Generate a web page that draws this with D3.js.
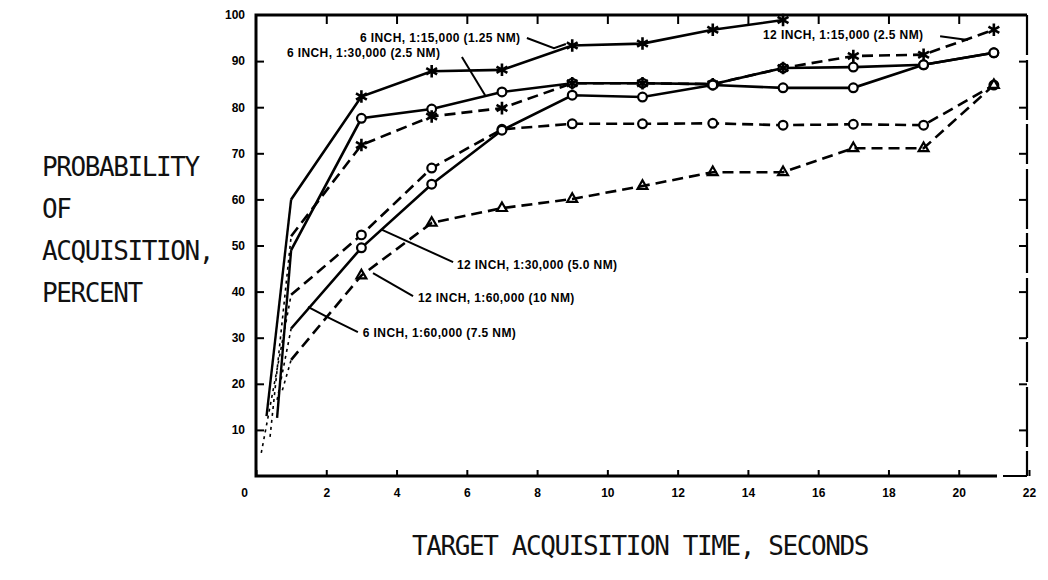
<!DOCTYPE html>
<html>
<head>
<meta charset="utf-8">
<script src="https://cdn.jsdelivr.net/npm/d3@7"></script>
<style>
  body { margin: 0; background: #fff; }
  .c-axis text { font-family: "Liberation Sans", sans-serif; font-weight: bold; font-size: 12px; }
  .c-axis line { stroke: #000; stroke-width: 2; }
  .c-axis path { display: none; }
  .c-title { font-family: "DejaVu Sans Mono", monospace; font-size: 26px; letter-spacing: -1.4px; fill: #111; }
  .c-note { font-family: "Liberation Sans", sans-serif; font-weight: bold; font-size: 12px; letter-spacing: 0.4px; fill: #000; }
</style>
</head>
<body>
<div id="chart"></div>
<script>
// acquisition times (seconds) where the points were taken
const acqTimes = [1, 3, 5, 7, 9, 11, 13, 15, 17, 19, 21];

// probability of acquisition, percent
const inch6Scale15k  = [60, 82.3, 87.8, 88.1, 93.4, 93.8, 96.8, 98.9];
const inch6Scale30k  = [49, 77.6, 79.6, 83.3, 85.2, 85.2, 85.0, 88.5, 88.7, 89.2, 91.8];
const inch12Scale15k = [52, 71.8, 78.0, 79.8, 85.2, 85.2, 85.0, 88.5, 91.1, 91.4, 96.8];
const inch12Scale30k = [39.3, 52.3, 66.8, 75.2, 76.4, 76.4, 76.5, 76.1, 76.3, 76.1, 84.8];
const inch6Scale60k  = [32, 49.5, 63.3, 75.0, 82.6, 82.2, 84.8, 84.2, 84.2, 89.2, 91.8];
const inch12Scale60k = [25.2, 43.5, 54.9, 58.1, 60.1, 62.9, 65.9, 65.9, 71.1, 71.1, 84.8];

// first (dotted) points near the origin, one per series
const startTimes  = [0.3, 0.6, 0.4, 0.15, 0.6, 0.75];
const startValues = [13, 12.6, 8.5, 5, 16.5, 18.6];

const seriesNames = [
  '6 INCH, 1:15,000 (1.25 NM)',
  '6 INCH, 1:30,000 (2.5 NM)',
  '12 INCH, 1:15,000 (2.5 NM)',
  '12 INCH, 1:30,000 (5.0 NM)',
  '6 INCH, 1:60,000 (7.5 NM)',
  '12 INCH, 1:60,000 (10 NM)'
];

const xTicks = [0, 2, 4, 6, 8, 10, 12, 14, 16, 18, 20, 22];
const yTicks = [10, 20, 30, 40, 50, 60, 70, 80, 90, 100];
const yTitle = ['PROBABILITY', 'OF', 'ACQUISITION,', 'PERCENT'];
const xTitle = 'TARGET ACQUISITION TIME, SECONDS';

class AcquisitionChart {
  constructor(aims) {
    this.chartContainer = d3.select(aims);
    this.chart = null;
    this.chartWidth = 1048;
    this.chartHeight = 580;
    this.timeScale = null;
    this.probScale = null;
    // line style + marker per series, same order as seriesNames
    this.styles = [
      { values: inch6Scale15k,  dash: null,   marker: 'star' },
      { values: inch6Scale30k,  dash: null,   marker: 'circle' },
      { values: inch12Scale15k, dash: '11,6', marker: 'star' },
      { values: inch12Scale30k, dash: '11,6', marker: 'circle' },
      { values: inch6Scale60k,  dash: null,   marker: 'circle' },
      { values: inch12Scale60k, dash: '11,6', marker: 'triangle' }
    ];
    // annotation text position and leader line, in data units
    this.notes = [
      { at: [2.96, 95.0], lead: [[7.71, 95.0], [8.48, 92.8], [8.82, 93.7]] },
      { at: [0.88, 91.8], lead: [[5.86, 90.9], [6.52, 82.6]] },
      { at: [14.43, 95.7], lead: [[19.47, 95.4], [20.26, 94.6]] },
      { at: [5.72, 45.8], lead: [[5.61, 46.4], [3.59, 53.4]] },
      { at: [3.04, 31.0], lead: [[2.9, 31.2], [2.02, 34.5], [1.48, 36.7]] },
      { at: [4.61, 38.6], lead: [[4.47, 39.0], [3.33, 44.0]] }
    ];
  }

  render() {
    this.createSvg();
    this.initScales();
    this.drawFrame();
    this.drawAxes();
    this.drawTitles();
    this.drawLines();
    this.drawPoints();
    this.drawNotes();
  }

  createSvg() {
    this.chart = this.chartContainer
      .append('svg')
      .attr('width', this.chartWidth)
      .attr('height', this.chartHeight);
  }

  initScales() {
    this.timeScale = d3.scaleLinear().domain([0, 22]).range([256, 1029]);
    this.probScale = d3.scaleLinear().domain([0, 100]).range([476, 15]);
  }

  drawFrame() {
    let x0 = this.timeScale(0), x1 = this.timeScale(22) - 2;
    let y0 = this.probScale(0), y1 = this.probScale(100);
    let g = this.chart.append('g').attr('class', 'c-frame')
      .attr('stroke', '#000').attr('fill', 'none');
    g.append('path').attr('stroke-width', 3)
      .attr('d', `M${x1},${y1} L${x0},${y1} L${x0},${y0} L${x1 - 30},${y0}`);
    g.append('path').attr('stroke-width', 2).attr('d', `M${x1 - 24},${y0} L${x1},${y0}`);
    // right edge looks broken in the print
    g.append('path').attr('stroke-width', 2.2)
      .style('stroke-dasharray', '40,5,60,4')
      .attr('d', `M${x1},${y1} L${x1},${y0}`);
  }

  drawAxes() {
    let bottom = d3.axisBottom(this.timeScale).tickValues(xTicks).tickSize(-6).tickPadding(12);
    let top = d3.axisTop(this.timeScale).tickValues(xTicks.slice(1, -1)).tickSize(-9).tickFormat('');
    let left = d3.axisLeft(this.probScale).tickValues(yTicks.slice(0, -1)).tickSize(-8).tickPadding(11);
    let right = d3.axisRight(this.probScale).tickValues(yTicks.slice(0, -1)).tickSize(-8).tickFormat('');

    let b = this.chart.append('g').attr('class', 'c-axis')
      .attr('transform', 'translate(0,' + this.probScale(0) + ')').call(bottom);
    // the 0 sits a bit left of the corner in the print
    b.selectAll('.tick text').filter(d => d === 0).attr('dx', -12);
    this.chart.append('g').attr('class', 'c-axis')
      .attr('transform', 'translate(0,' + this.probScale(100) + ')').call(top);
    let l = this.chart.append('g').attr('class', 'c-axis')
      .attr('transform', 'translate(' + this.timeScale(0) + ',0)').call(left);
    // the 100 label sits at the top corner
    l.append('text').attr('fill', 'currentColor')
      .attr('x', -11).attr('y', this.probScale(100)).attr('dy', '0.32em')
      .attr('text-anchor', 'end').text('100');
    this.chart.append('g').attr('class', 'c-axis')
      .attr('transform', 'translate(' + (this.timeScale(22) - 2) + ',0)').call(right);
  }

  drawTitles() {
    this.chart.append('g').selectAll('text')
      .data(yTitle).enter().append('text')
      .attr('class', 'c-title')
      .attr('x', 42)
      .attr('y', (d, i) => 176 + i * 42)
      .text(d => d);

    this.chart.append('text')
      .attr('class', 'c-title')
      .attr('x', 640).attr('y', 555)
      .attr('text-anchor', 'middle')
      .text(xTitle);
  }

  pointsOf(s, i) {
    return s.values.map((v, k) => ({ t: acqTimes[k], v: v, i: i }));
  }

  drawLines() {
    let line = d3.line()
      .x(d => this.timeScale(d.t))
      .y(d => this.probScale(d.v));

    // dotted lead-in from the first reading to the 1 second point
    this.chart.append('g').attr('class', 'c-lead')
      .selectAll('path').data(this.styles).enter()
      .append('path')
      .attr('fill', 'none').attr('stroke', '#000')
      .attr('stroke-width', (d, i) => i < 2 ? 2.4 : 1.6)
      .style('stroke-dasharray', (d, i) => i < 2 ? null : '3,4')
      .attr('d', (d, i) => line([{ t: startTimes[i], v: startValues[i] }, { t: acqTimes[0], v: d.values[0] }]));

    this.chart.append('g').attr('class', 'c-line')
      .selectAll('path').data(this.styles).enter()
      .append('path')
      .attr('fill', 'none').attr('stroke', '#000')
      .attr('stroke-width', 2.6)
      .style('stroke-dasharray', d => d.dash)
      .attr('d', (d, i) => line(this.pointsOf(d, i)));
  }

  drawPoints() {
    let symbols = {
      star: d3.symbol().type(d3.symbolAsterisk).size(110),
      circle: d3.symbol().type(d3.symbolCircle).size(60),
      triangle: d3.symbol().type(d3.symbolTriangle2).size(70)
    };
    this.styles.forEach((s, i) => {
      this.chart.append('g').attr('class', 'c-points')
        .selectAll('path')
        .data(this.pointsOf(s, i).slice(1))
        .enter().append('path')
        .attr('transform', d => 'translate(' + this.timeScale(d.t) + ',' + this.probScale(d.v) + ')')
        .attr('d', symbols[s.marker]())
        .attr('fill', s.marker === 'circle' ? '#fff' : 'none')
        .attr('stroke', '#000')
        .attr('stroke-width', s.marker === 'star' ? 2.6 : 2.2);
    });
  }

  drawNotes() {
    let line = d3.line()
      .x(d => this.timeScale(d[0]))
      .y(d => this.probScale(d[1]));
    let g = this.chart.append('g').attr('class', 'c-notes');
    this.notes.forEach((n, i) => {
      g.append('text')
        .attr('class', 'c-note')
        .attr('x', this.timeScale(n.at[0]))
        .attr('y', this.probScale(n.at[1]))
        .attr('dy', '0.35em')
        .text(seriesNames[i]);
      g.append('path')
        .attr('fill', 'none').attr('stroke', '#000').attr('stroke-width', 2)
        .attr('d', line(n.lead));
    });
  }
}

new AcquisitionChart('#chart').render();
</script>
</body>
</html>
